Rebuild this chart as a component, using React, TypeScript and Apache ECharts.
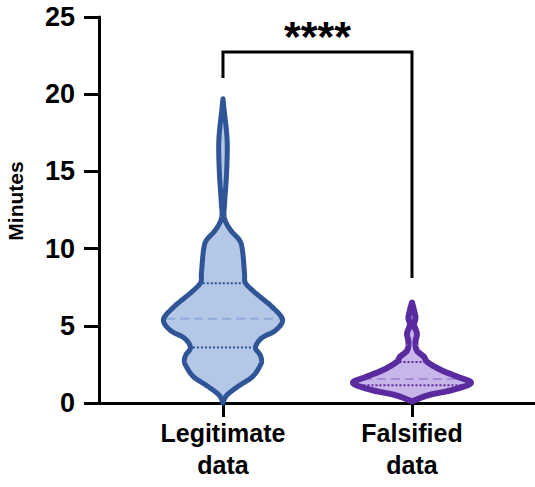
import React, { useEffect, useRef } from "react";
import * as echarts from "echarts";

// ---- data ----
const categories = ["Legitimate\ndata", "Falsified\ndata"];
const categoryPositions = [1, 2];

const yMin = 0;
const yMax = 25;
const yInterval = 5;
const yAxisTitle = "Minutes";

// Violin outlines: value (minutes) and half-width (in x-axis units)
const legitValues = [0, 0.5, 1.05, 1.7, 2.45, 2.8, 3.15, 3.6, 4.2, 4.7, 5.4, 6.2, 6.8, 7.3, 7.8, 8.4, 9.9, 10.55, 11.2, 12.0, 13.0, 14.9, 17.0, 19.0, 19.7];
const legitHalfWidths = [0, 0.02, 0.077, 0.156, 0.198, 0.204, 0.195, 0.172, 0.204, 0.278, 0.315, 0.262, 0.204, 0.156, 0.118, 0.114, 0.103, 0.087, 0.04, 0.007, 0.009, 0.019, 0.022, 0.006, 0];

const falsifiedValues = [0.1, 0.5, 0.85, 1.3, 1.7, 2.15, 2.65, 3.0, 3.4, 3.95, 4.5, 5.05, 5.5, 6.0, 6.5];
const falsifiedHalfWidths = [0, 0.085, 0.217, 0.312, 0.241, 0.151, 0.082, 0.063, 0.026, 0.0185, 0.026, 0.011, 0.0185, 0.011, 0];

// quartiles: [Q1, median, Q3]
const legitQuartiles = [3.6, 5.45, 7.75];
const falsifiedQuartiles = [1.15, 1.55, 2.65];

// significance bracket
const bracketX = [1, 1, 2, 2];
const bracketY = [21.05, 22.73, 22.73, 8.1];
const significanceLabel = "****";
const significanceX = 1.5;
const significanceY = 23.8;

const FONT = "'Liberation Sans', Arial, Helvetica, sans-serif";

const violinStyles = [
  { stroke: "#2f5597", fill: "#b4c7e7", median: "#8faadc", width: 5 },
  { stroke: "#5a2b9e", fill: "#c8b6ea", median: "#a58bd6", width: 6 },
];

const profiles = [
  { values: legitValues, widths: legitHalfWidths, quartiles: legitQuartiles },
  { values: falsifiedValues, widths: falsifiedHalfWidths, quartiles: falsifiedQuartiles },
];

function smoothProfile(vs: number[], ws: number[]): number[][] {
  const out: number[][] = [];
  const n = vs.length;
  const P = (i: number) => {
    const k = Math.max(0, Math.min(n - 1, i));
    return [vs[k], ws[k]];
  };
  const steps = 10;
  for (let i = 0; i < n - 1; i++) {
    const p0 = P(i - 1), p1 = P(i), p2 = P(i + 1), p3 = P(i + 2);
    for (let s = 0; s < steps; s++) {
      const t = s / steps;
      const t2 = t * t, t3 = t2 * t;
      const pt = [0, 1].map((d) =>
        0.5 * (2 * p1[d] + (-p0[d] + p2[d]) * t + (2 * p0[d] - 5 * p1[d] + 4 * p2[d] - p3[d]) * t2 + (-p0[d] + 3 * p1[d] - 3 * p2[d] + p3[d]) * t3)
      );
      pt[1] = Math.max(0, pt[1]);
      out.push(pt);
    }
  }
  out.push([vs[n - 1], ws[n - 1]]);
  return out;
}

function widthAt(dense: number[][], v: number): number {
  for (let i = 0; i < dense.length - 1; i++) {
    const a = dense[i], b = dense[i + 1];
    if ((v >= a[0] && v <= b[0]) || (v <= a[0] && v >= b[0])) {
      const t = b[0] === a[0] ? 0 : (v - a[0]) / (b[0] - a[0]);
      return a[1] + (b[1] - a[1]) * t;
    }
  }
  return 0;
}

export default function App() {
  const ref = useRef<HTMLDivElement>(null);

  useEffect(() => {
    document.body.style.margin = "0";
    if (!ref.current) return;
    const chart = echarts.init(ref.current, undefined, { renderer: "svg" });

    const violinRender = (params: any, api: any) => {
      const i = params.dataIndex;
      const c = categoryPositions[i];
      const prof = profiles[i];
      const st = violinStyles[i];
      const dense = smoothProfile(prof.values, prof.widths);
      const right = dense.map(([v, w]) => api.coord([c + w, v]));
      const left = dense.slice().reverse().map(([v, w]) => api.coord([c - w, v]));
      const pts = right.concat(left);
      const children: any[] = [];
      children.push({
        type: "polygon",
        shape: { points: pts },
        style: { fill: st.fill, stroke: "none" },
      });
      prof.quartiles.forEach((q, qi) => {
        const w = widthAt(dense, q);
        const p1 = api.coord([c - w, q]);
        const p2 = api.coord([c + w, q]);
        const isMedian = qi === 1;
        children.push({
          type: "line",
          shape: { x1: p1[0] + st.width / 2, y1: p1[1], x2: p2[0] - st.width / 2, y2: p2[1] },
          style: {
            stroke: isMedian ? st.median : st.stroke,
            lineWidth: 2,
            lineDash: isMedian ? [9, 5] : [2, 2],
          },
        });
      });
      children.push({
        type: "polygon",
        shape: { points: pts },
        style: { fill: "none", stroke: st.stroke, lineWidth: st.width, lineJoin: "round" },
      });
      return { type: "group", children };
    };

    const bracketRender = (_params: any, api: any) => {
      const pts = bracketX.map((x, k) => api.coord([x, bracketY[k]]));
      const tp = api.coord([significanceX, significanceY]);
      return {
        type: "group",
        children: [
          {
            type: "polyline",
            shape: { points: pts },
            style: { fill: "none", stroke: "#000", lineWidth: 3 },
          },
          {
            type: "text",
            x: tp[0],
            y: tp[1],
            style: {
              text: significanceLabel,
              fill: "#000",
              fontFamily: FONT,
              fontWeight: "bold",
              fontSize: 43,
              align: "center",
              verticalAlign: "middle",
            },
          },
        ],
      };
    };

    chart.setOption({
      animation: false,
      backgroundColor: "#fff",
      grid: { left: 99, right: 0, top: 17, bottom: 84, containLabel: false, outerBoundsMode: "none" },
      graphic: [
        {
          type: "text",
          x: 15,
          y: 201,
          rotation: Math.PI / 2,
          style: {
            text: yAxisTitle,
            fill: "#000",
            fontFamily: FONT,
            fontWeight: "bold",
            fontSize: 21,
            align: "center",
            verticalAlign: "middle",
          },
        },
      ],
      xAxis: {
        type: "value",
        min: 0.344,
        max: 2.651,
        splitLine: { show: false },
        axisLine: { show: true, onZero: false, lineStyle: { color: "#000", width: 3 } },
        axisTick: {
          show: true,
          customValues: categoryPositions,
          length: 14,
          lineStyle: { color: "#000", width: 3 },
        },
        axisLabel: {
          show: true,
          customValues: categoryPositions,
          formatter: (v: number) => categories[categoryPositions.indexOf(Math.round(v))] ?? "",
          fontFamily: FONT,
          fontWeight: "bold",
          fontSize: 25,
          lineHeight: 32,
          color: "#000",
          margin: 14,
        },
      },
      yAxis: {
        type: "value",
        min: yMin,
        max: yMax,
        interval: yInterval,
        splitLine: { show: false },
        axisLine: { show: true, lineStyle: { color: "#000", width: 3 } },
        axisTick: { show: true, length: 15, lineStyle: { color: "#000", width: 3 } },
        axisLabel: {
          fontFamily: FONT,
          fontWeight: "bold",
          fontSize: 27,
          color: "#000",
          margin: 24,
        },
      },
      series: [
        {
          type: "custom",
          renderItem: violinRender,
          data: categoryPositions.map((c) => [c, 0]),
          encode: { x: 0, y: 1 },
          silent: true,
        },
        {
          type: "custom",
          renderItem: bracketRender,
          data: [[significanceX, bracketY[1]]],
          encode: { x: 0, y: 1 },
          silent: true,
        },
      ],
    });

    return () => chart.dispose();
  }, []);

  return <div ref={ref} style={{ width: 535, height: 487 }} />;
}
